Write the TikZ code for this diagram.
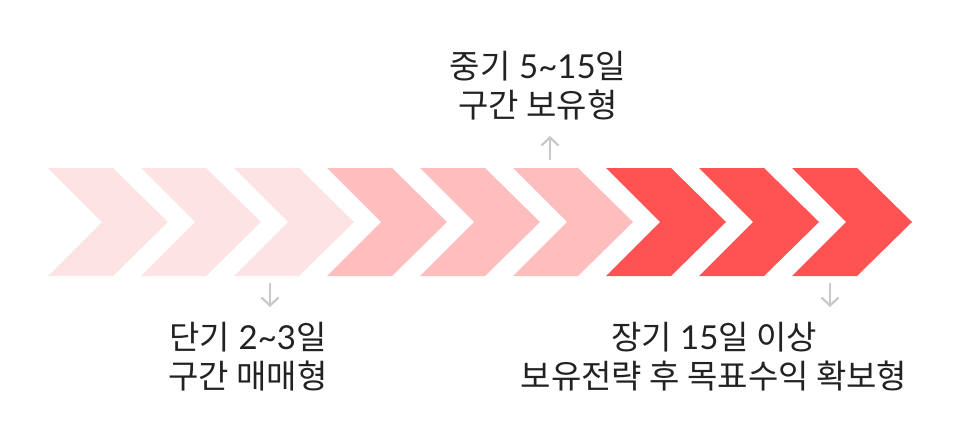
\documentclass[tikz,border=0pt]{standalone}
\usepackage{fontspec}
\setmainfont{Lato}
\newfontfamily\kr{Noto Sans CJK KR}
\usetikzlibrary{arrows.meta}
\definecolor{cA}{RGB}{253,227,227}
\definecolor{cB}{RGB}{255,190,190}
\definecolor{cC}{RGB}{255,82,82}
\definecolor{txt}{RGB}{34,34,34}
\definecolor{arr}{RGB}{200,200,200}
\tikzset{
  lbl/.style={text=txt,font=\fontsize{33}{40}\selectfont,align=center,inner sep=0pt,anchor=base},
  pointer/.style={draw=arr,line width=2.2pt,-{Straight Barb[length=8pt,width=17pt,line width=2.2pt]}}
}
\begin{document}
\begin{tikzpicture}[x=1pt,y=-1pt]
\useasboundingbox (0,0) rectangle (960,444);
\foreach \i/\c in {0/cA,1/cA,2/cA,3/cB,4/cB,5/cB,6/cC,7/cC,8/cC}{
  \pgfmathsetmacro{\xx}{48+93*\i}
  \fill[\c] (\xx,168) -- ++(65,0) -- ++(55,54) -- ++(-55,54) -- ++(-65,0) -- ++(54,-54) -- cycle;
}
\coordinate (u1) at (550,160); \coordinate (u2) at (550,136);
\coordinate (d1) at (270,283); \coordinate (d2) at (270,307);
\coordinate (e1) at (830,283); \coordinate (e2) at (830,307);
\draw[pointer] (u1) -- (u2);
\draw[pointer] (d1) -- (d2);
\draw[pointer] (e1) -- (e2);
\node[lbl] (t1) at (538,78) {{\kr 중기} 5\char"007E 15{\kr 일}};
\node[lbl] (t2) at (538,117) {\kr 구간 보유형};
\node[lbl] (b1) at (248,349) {{\kr 단기} 2\char"007E 3{\kr 일}};
\node[lbl] (b2) at (248,388) {\kr 구간 매매형};
\node[lbl] (c1) at (714,349) {{\kr 장기} 15{\kr 일 이상}};
\node[lbl] (c2) at (714,388) {\kr 보유전략 후 목표수익 확보형};
\end{tikzpicture}
\end{document}
